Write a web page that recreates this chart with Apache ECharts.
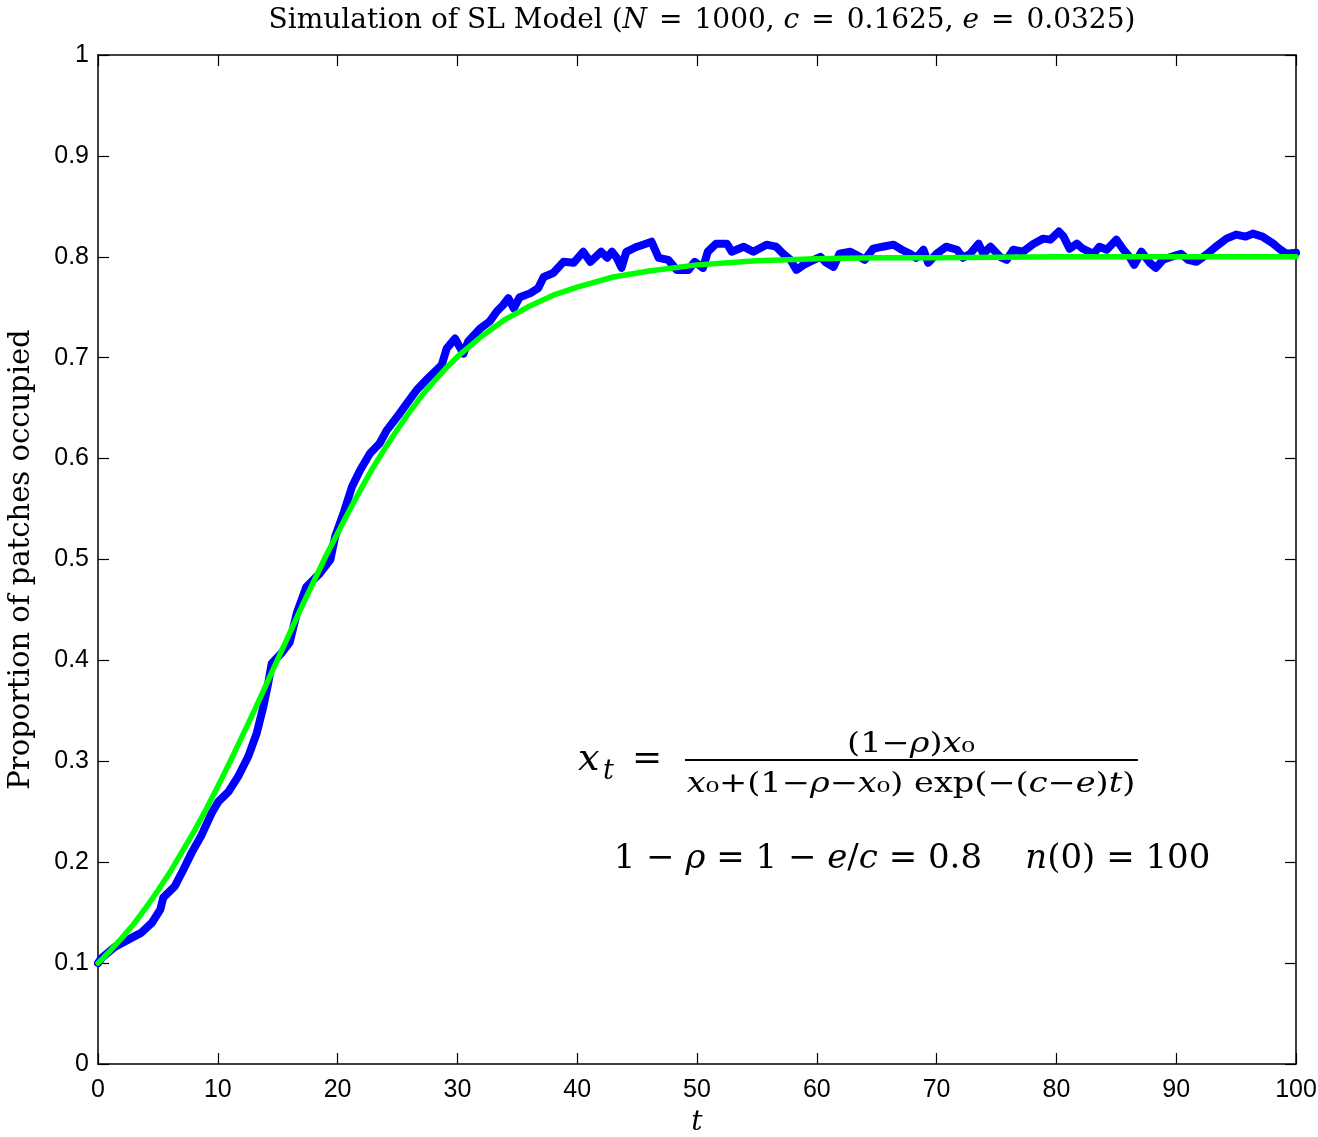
<!DOCTYPE html>
<html><head><meta charset="utf-8">
<script src="https://cdn.jsdelivr.net/npm/echarts@6/dist/echarts.min.js"></script>
<style>html,body{margin:0;padding:0;background:#fff}#chart{width:1318px;height:1137px}</style>
</head><body><div id="chart"></div>
<script>
// Simulated proportion of occupied patches (blue)
const blueT = [
  0,0.3,1.4,2.95,3.6,4.5,5.2,5.45,6.4,7.1,
  7.8,8.65,9.5,10.05,10.9,11.7,12.55,13.25,13.8,14.2,
  14.5,15.3,16.0,16.6,17.4,18.5,19.4,19.8,20.5,21.2,
  21.9,22.7,23.5,24.1,25.2,25.8,26.6,27.4,28.1,28.7,
  29.1,29.8,30.5,30.9,31.9,32.7,33.3,33.8,34.25,34.7,
  35.2,36.1,36.75,37.2,38.0,38.85,39.7,40.5,41.1,42.0,
  42.5,42.9,43.3,43.7,44.1,45.0,45.5,46.2,46.8,47.6,
  48.3,49.3,49.8,50.5,50.9,51.6,52.5,52.9,53.9,54.7,
  55.8,56.6,57.2,57.8,58.3,58.9,59.4,60.3,60.8,61.4,
  61.9,62.8,63.6,64.0,64.7,65.5,66.4,67.1,67.8,68.3,
  68.9,69.3,70.0,70.8,71.7,72.2,72.8,73.5,73.9,74.5,
  75.3,75.85,76.4,77.2,78.1,78.9,79.5,80.2,80.6,81.1,
  81.7,82.2,83.1,83.6,84.2,85.0,85.6,86.1,86.5,87.1,
  87.8,88.3,88.9,89.6,90.4,91.0,91.7,92.5,93.3,94.2,
  95.0,95.8,96.4,97.2,98.1,98.6,99.2,100
];
const blueV = [
  0.100,0.105,0.116,0.126,0.130,0.140,0.153,0.165,0.176,0.192,
  0.209,0.227,0.249,0.260,0.270,0.285,0.305,0.328,0.354,0.377,
  0.397,0.407,0.418,0.447,0.473,0.486,0.500,0.523,0.546,0.572,
  0.589,0.605,0.615,0.628,0.645,0.655,0.668,0.678,0.686,0.693,
  0.709,0.719,0.704,0.716,0.729,0.736,0.746,0.752,0.759,0.749,
  0.760,0.764,0.769,0.780,0.784,0.795,0.794,0.805,0.795,0.805,
  0.799,0.805,0.799,0.789,0.805,0.810,0.812,0.815,0.799,0.797,
  0.787,0.787,0.795,0.789,0.805,0.813,0.813,0.805,0.810,0.805,
  0.812,0.810,0.803,0.797,0.787,0.792,0.795,0.800,0.794,0.790,
  0.803,0.805,0.800,0.797,0.808,0.810,0.812,0.807,0.803,0.799,
  0.807,0.794,0.803,0.810,0.807,0.799,0.803,0.813,0.803,0.810,
  0.800,0.797,0.807,0.805,0.813,0.818,0.817,0.825,0.820,0.808,
  0.813,0.808,0.803,0.810,0.807,0.817,0.807,0.800,0.792,0.805,
  0.794,0.789,0.797,0.800,0.803,0.797,0.795,0.802,0.810,0.818,
  0.822,0.820,0.823,0.820,0.813,0.808,0.803,0.804
];
// Model curve (green)
const fitT = [
  0,1,2,3,4,5,6,7,8,9,
  10,11,12,13,14,15,16,17,18,19,
  20,21,22,23,24,25,26,27,28,29,
  30,32,34,36,38,40,43,46,50,55,
  60,65,70,80,90,100
];
const fitV = [
  0.100,0.112,0.125,0.139,0.155,0.172,0.190,0.210,0.230,0.252,
  0.275,0.299,0.324,0.349,0.375,0.401,0.427,0.453,0.478,0.503,
  0.526,0.549,0.571,0.592,0.611,0.629,0.646,0.662,0.676,0.689,
  0.701,0.721,0.738,0.751,0.762,0.770,0.780,0.786,0.792,0.796,
  0.798,0.799,0.799,0.800,0.800,0.800
];

const titleText = 'Simulation of SL Model ({i|N}{q|=}1000, {i|c}{q|=}0.1625, {i|e}{q|=}0.0325)';
const xName = 't';
const yName = 'Proportion of patches occupied';
const numText = '(1−{i|ρ}){i|x}₀';
const denText = '{i|x}₀+(1−{i|ρ}−{i|x}₀) exp(−({i|c}−{i|e}){i|t})';
const line2Text = '1 − {i|ρ} = 1 − {i|e}/{i|c} = 0.8    {i|n}(0) = 100';

const SERIF = 'DejaVu Serif';
const SANS = 'Liberation Sans';

const chart = echarts.init(document.getElementById('chart'), null, {renderer: 'canvas'});

function axisCommon(extra) {
  return Object.assign({
    type: 'value',
    axisLine: {show: true, onZero: false, lineStyle: {color: '#000', width: 1.5}},
    axisTick: {show: true, inside: true, length: 11, lineStyle: {color: '#000', width: 1.2}},
    splitLine: {show: false}
  }, extra);
}

const mathRich = {
  i: {fontFamily: SERIF, fontStyle: 'italic', fontSize: 28, fill: '#000'}
};

chart.setOption({
  animation: false,
  backgroundColor: '#fff',
  title: {
    text: titleText,
    left: 697,
    textAlign: 'center',
    top: 2,
    textStyle: {
      fontFamily: SERIF, fontSize: 28, fontWeight: 'normal', color: '#000',
      rich: {
        i: {fontFamily: SERIF, fontStyle: 'italic', fontSize: 28, color: '#000'},
        q: {fontFamily: SERIF, fontSize: 28, color: '#000', padding: [0, 12, 0, 12]}
      }
    }
  },
  grid: {left: 98, right: 22, top: 55, bottom: 73, containLabel: false, outerBoundsMode: 'none'},
  xAxis: [
    axisCommon({
      min: 0, max: 100, interval: 10, position: 'bottom',
      axisLabel: {color: '#000', fontFamily: SANS, fontSize: 25, margin: 14},
      name: xName, nameLocation: 'middle', nameGap: 45,
      nameTextStyle: {fontFamily: SERIF, fontStyle: 'italic', fontSize: 28, color: '#000'}
    }),
    axisCommon({
      min: 0, max: 100, interval: 10, position: 'top',
      axisLabel: {show: false}
    })
  ],
  yAxis: [
    axisCommon({
      min: 0, max: 1, interval: 0.1, position: 'left',
      axisLabel: {color: '#000', fontFamily: SANS, fontSize: 25, margin: 9},
      name: yName, nameLocation: 'middle', nameGap: 62,
      nameTextStyle: {fontFamily: SERIF, fontSize: 29, color: '#000'}
    }),
    axisCommon({
      min: 0, max: 1, interval: 0.1, position: 'right',
      axisLabel: {show: false}
    })
  ],
  series: [
    {
      name: 'Simulation', type: 'line', xAxisIndex: 0, yAxisIndex: 0,
      data: blueT.map((t, i) => [t, blueV[i]]),
      showSymbol: false,
      lineStyle: {color: '#0000ff', width: 8, cap: 'round', join: 'round'},
      z: 2
    },
    {
      name: 'Model', type: 'line', xAxisIndex: 0, yAxisIndex: 0,
      data: fitT.map((t, i) => [t, fitV[i]]),
      showSymbol: false, smooth: false,
      lineStyle: {color: '#00ff00', width: 5.5, cap: 'round', join: 'round'},
      z: 3
    }
  ],
  graphic: [
    {type: 'text', x: 578, y: 760, z: 10,
     style: {text: 'x', fontFamily: SERIF, fontStyle: 'italic', fontSize: 38, fill: '#000', align: 'left', verticalAlign: 'middle'}},
    {type: 'text', x: 603, y: 772, z: 10,
     style: {text: 't', fontFamily: SERIF, fontStyle: 'italic', fontSize: 27, fill: '#000', align: 'left', verticalAlign: 'middle'}},
    {type: 'text', x: 632, y: 760, z: 10,
     style: {text: '=', fontFamily: SERIF, fontSize: 36, fill: '#000', align: 'left', verticalAlign: 'middle'}},
    {type: 'line', z: 10, shape: {x1: 685, y1: 760, x2: 1138, y2: 760}, style: {stroke: '#000', lineWidth: 2}},
    {type: 'group', x: 911, y: 0, scaleX: 1.2, z: 10, children: [
      {type: 'text', x: 0, y: 745,
       style: {text: numText, fontFamily: SERIF, fontSize: 28, fill: '#000', align: 'center', verticalAlign: 'middle', rich: mathRich}},
      {type: 'text', x: 0, y: 785,
       style: {text: denText, fontFamily: SERIF, fontSize: 28, fill: '#000', align: 'center', verticalAlign: 'middle', rich: mathRich}}
    ]},
    {type: 'text', x: 912, y: 859, z: 10,
     style: {text: line2Text, fontFamily: SERIF, fontSize: 34, fill: '#000', align: 'center', verticalAlign: 'middle',
             rich: {i: {fontFamily: SERIF, fontStyle: 'italic', fontSize: 34, fill: '#000'}}}}
  ]
});
</script>
</body></html>
